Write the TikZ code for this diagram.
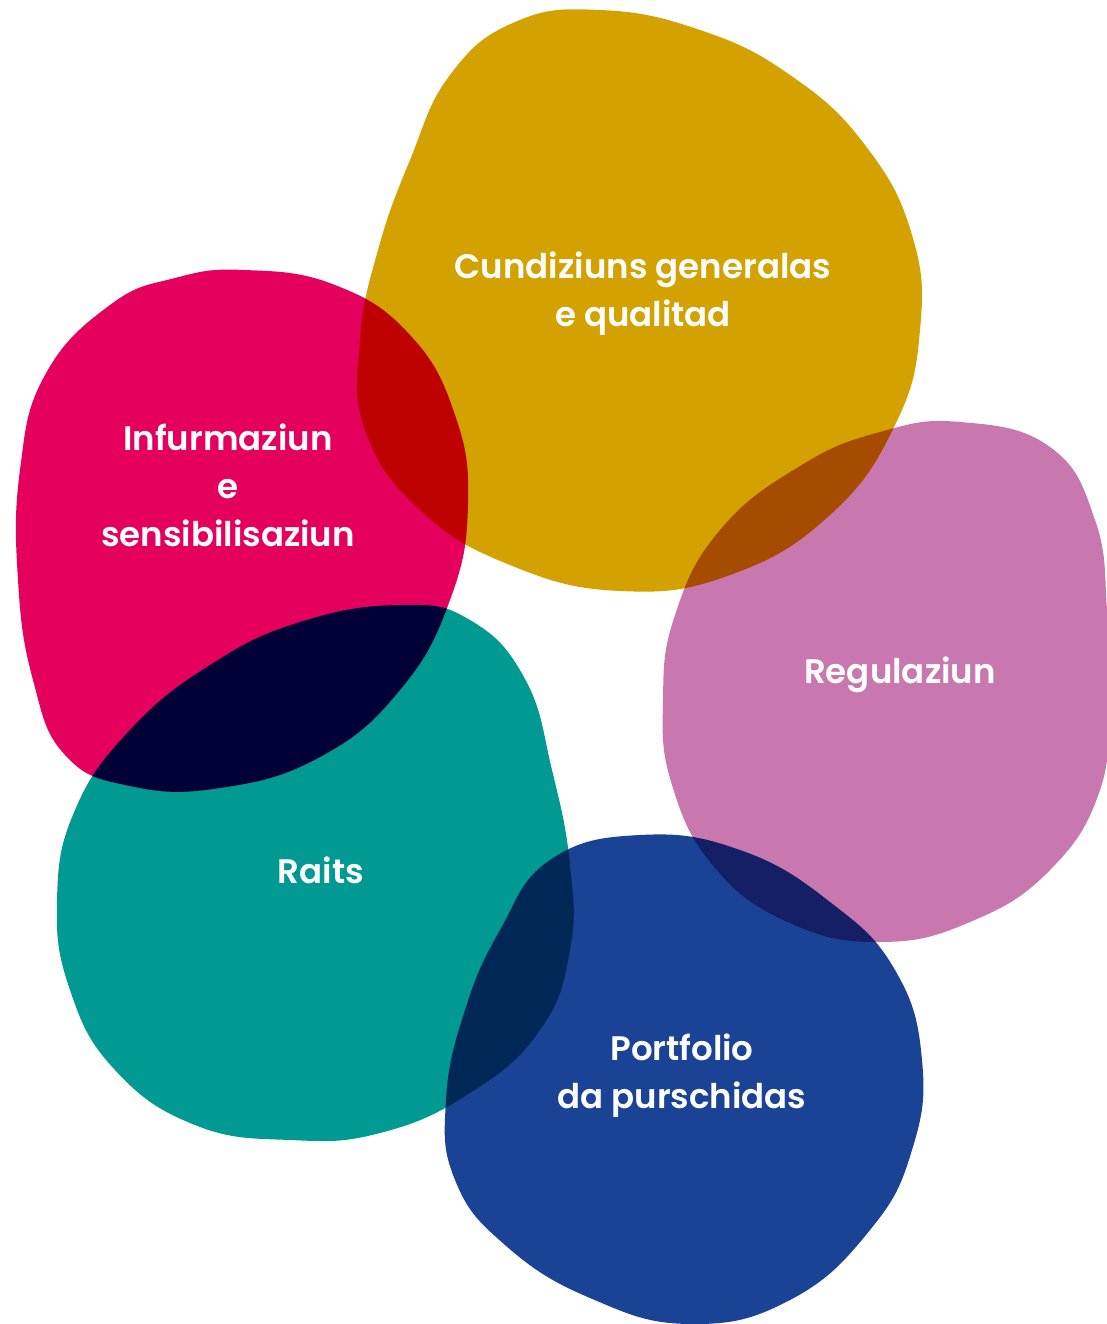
\documentclass[tikz,border=0pt]{standalone}
\usepackage{fontspec}
\setmainfont{Poppins}[UprightFont=* SemiBold]
\usetikzlibrary{positioning}

\definecolor{gold}{HTML}{D4A200}
\definecolor{rosa}{HTML}{E5005E}
\definecolor{teal}{HTML}{009A93}
\definecolor{lila}{HTML}{C878AE}
\definecolor{blau}{HTML}{1A4396}

\begin{document}
\begin{tikzpicture}[x=1pt,y=-1pt]
\tikzset{blob/.style={fill=#1,draw=none,blend mode=multiply},
  topic/.style={text=white,align=center,inner sep=0pt,font=\fontsize{34}{48}\selectfont}}
\fill[white] (0,0) rectangle (1107,1324);
\useasboundingbox (0,0) rectangle (1107,1324);
% the five fields
\path[blob=gold] plot[smooth cycle,tension=0.75] coordinates {(600,10) (700,30) (790,75) (865,145) (912,235) (920,330) (895,425) (830,515) (730,575) (620,591) (510,565) (420,510) (365,430) (360,340) (378,250) (410,160) (450,75) (515,22)};
\path[blob=rosa] plot[smooth cycle,tension=0.75] coordinates {(245,270) (335,285) (410,335) (455,415) (468,505) (450,600) (400,690) (320,757) (220,788) (130,786) (65,755) (33,680) (18,580) (20,470) (45,375) (110,305) (175,278)};
\path[blob=teal] plot[smooth cycle,tension=0.75] coordinates {(400,605) (470,620) (525,679) (552,770) (570,865) (570,950) (540,1030) (470,1093) (380,1133) (290,1140) (195,1125) (115,1070) (70,990) (57,900) (75,810) (130,730) (210,665) (300,622)};
\path[blob=lila] plot[smooth cycle,tension=0.75] coordinates {(960,422) (1050,447) (1095,520) (1107,610) (1108,700) (1100,790) (1050,870) (970,922) (880,942) (790,923) (715,868) (672,785) (663,700) (675,615) (720,530) (800,466) (880,432)};
\path[blob=blau] plot[smooth cycle,tension=0.75] coordinates {(640,835) (740,850) (830,902) (895,970) (922,1060) (912,1150) (870,1230) (790,1300) (690,1324) (590,1298) (505,1245) (455,1180) (446,1100) (465,1010) (500,930) (550,860)};
% labels
\node[topic] (cundiziuns) at (643,294) {Cundiziuns generalas\\e qualitad};
\node[topic] (infurmaziun) at (228,485) {Infurmaziun\\e\\sensibilisaziun};
\node[topic] (regulaziun) at (900,675) {Regulaziun};
\node[topic] (raits) at (321,870) {Raits};
\node[topic] (portfolio) at (682,1076) {Portfolio\\da purschidas};
\end{tikzpicture}
\end{document}
